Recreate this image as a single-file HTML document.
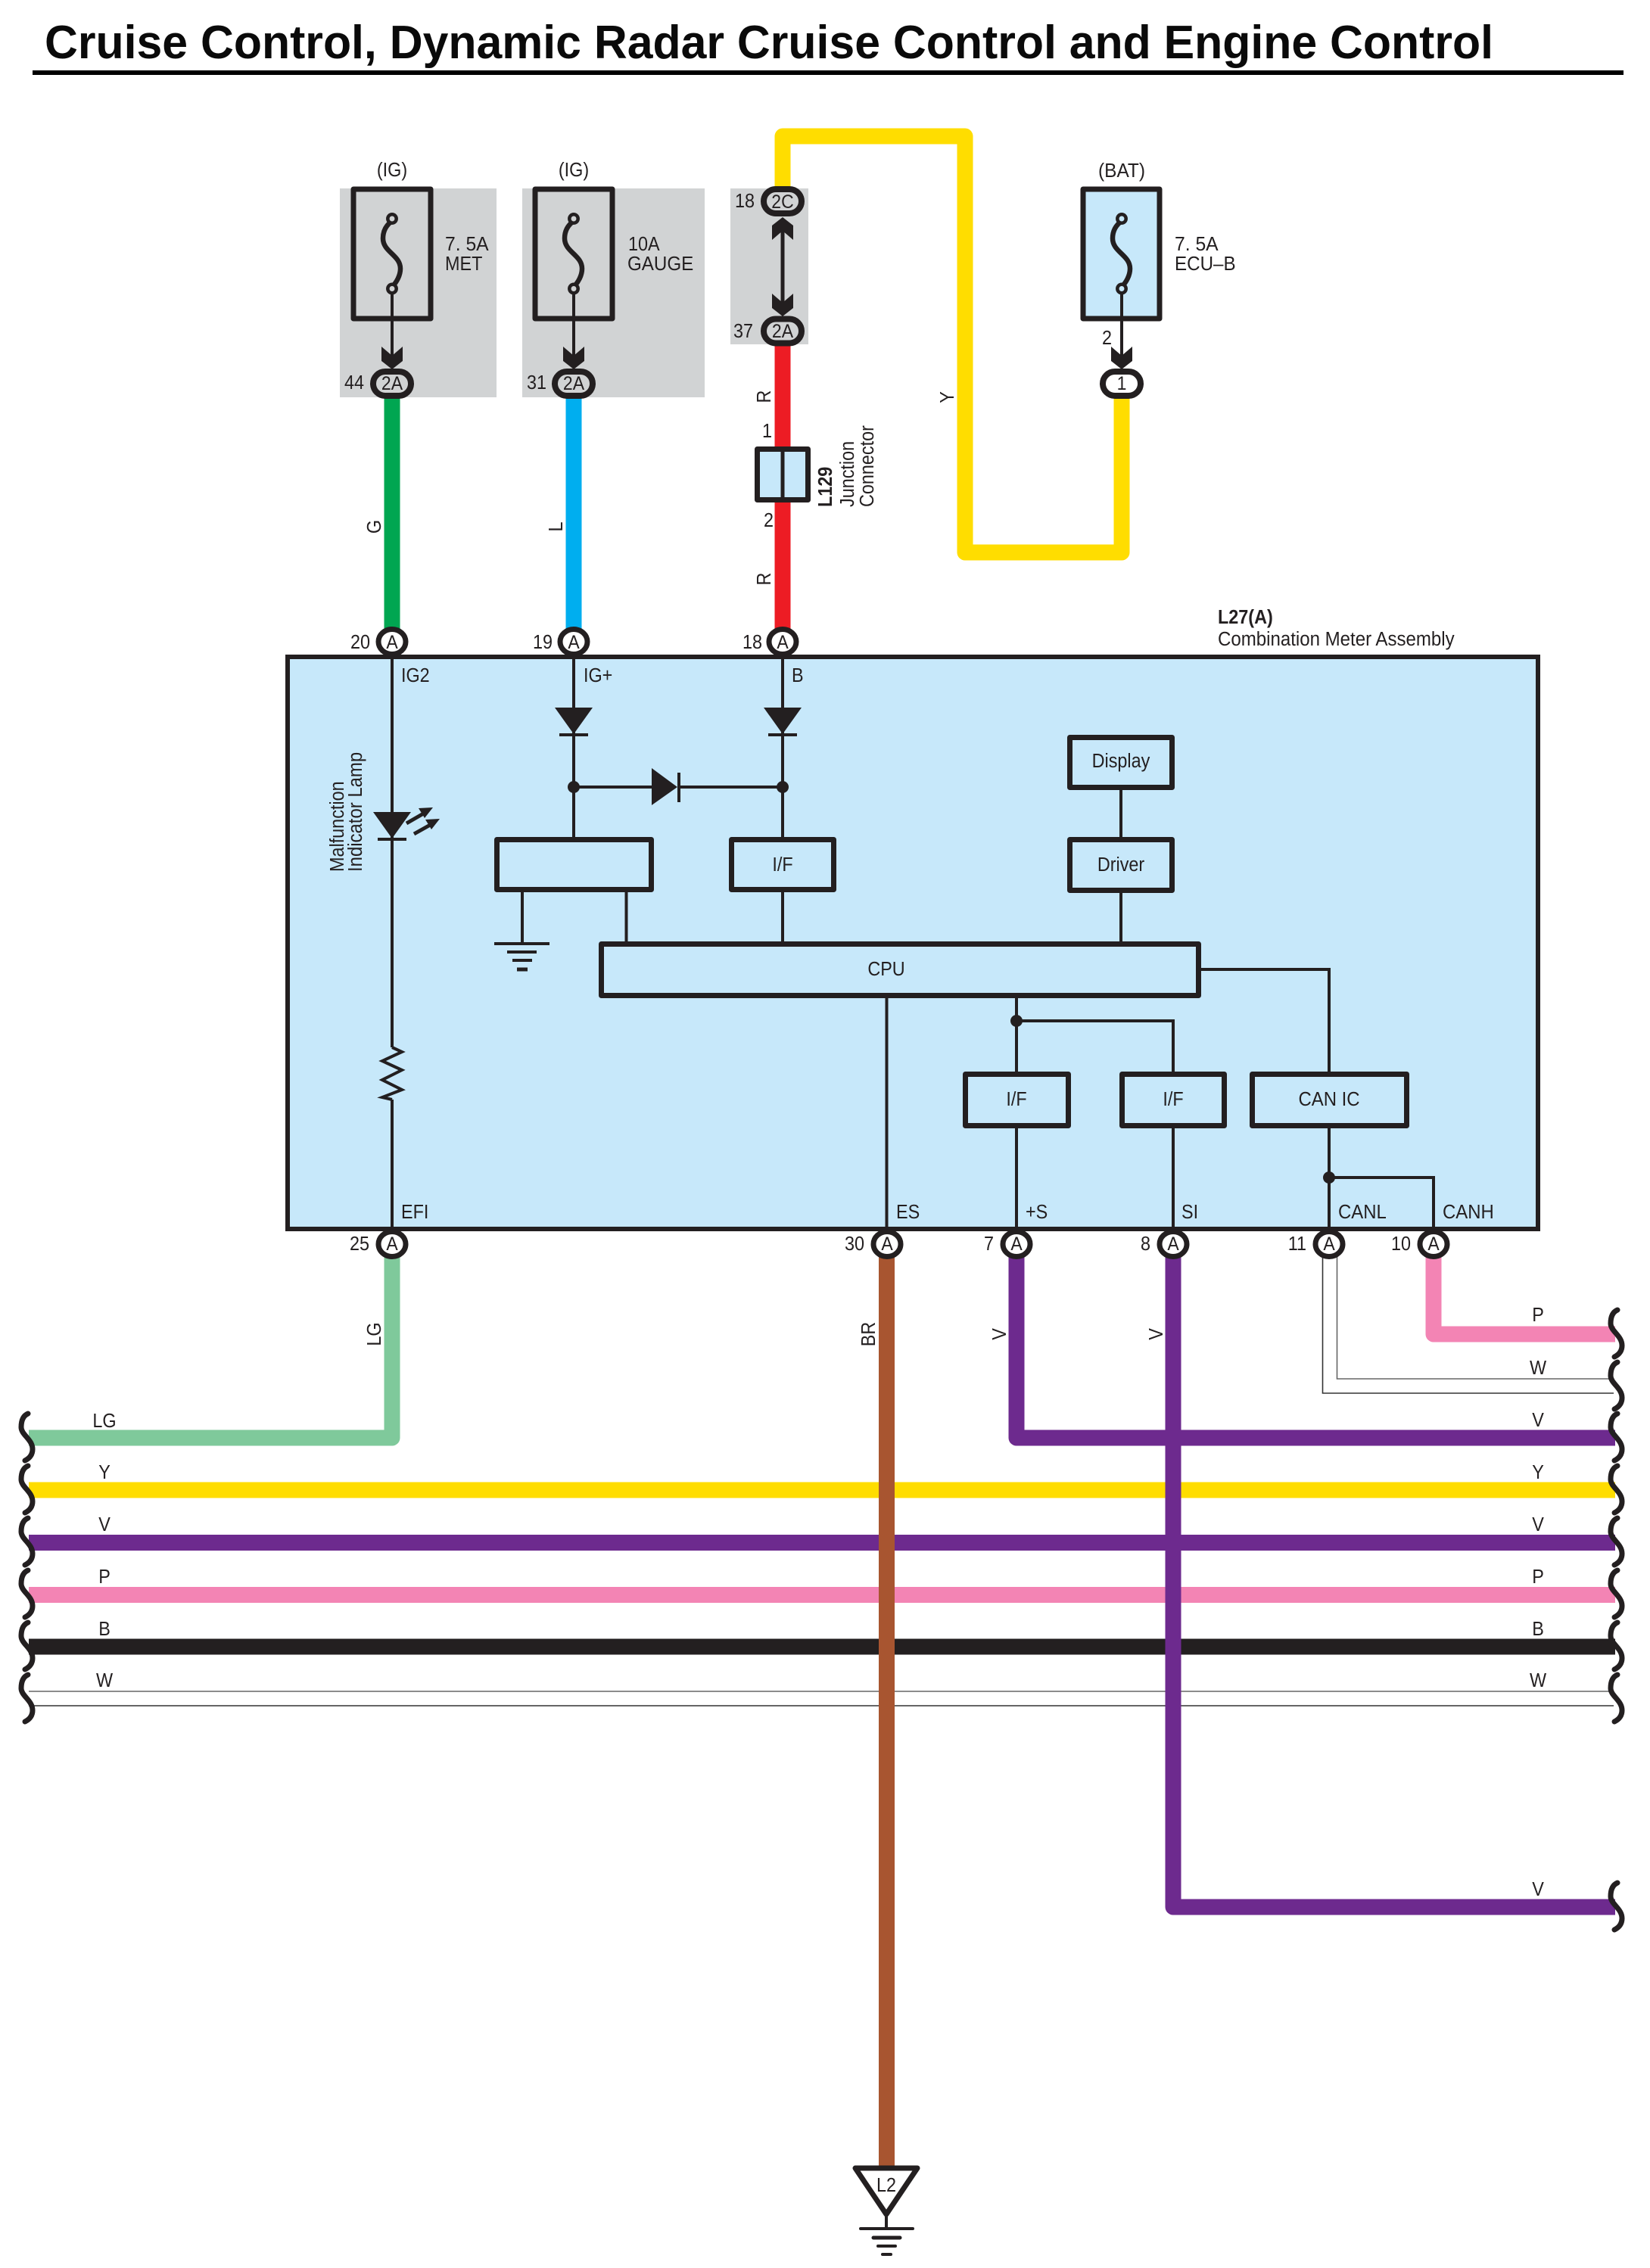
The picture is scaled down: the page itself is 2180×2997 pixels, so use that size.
<!DOCTYPE html>
<html><head><meta charset="utf-8"><style>
html,body{margin:0;padding:0;background:#fff}
svg{display:block}
text{font-family:"Liberation Sans",sans-serif;font-size:26px;fill:#231f20}
.m{text-anchor:middle}.e{text-anchor:end}.b{font-weight:bold}
.n{font-size:25px}
.w{fill:none;stroke-width:21;stroke-linejoin:round}
.l{fill:none;stroke:#231f20;stroke-width:4}
.k{fill:none;stroke:#231f20;stroke-width:7;stroke-linejoin:round}
.bx{fill:#c7e8fa;stroke:#231f20;stroke-width:7;stroke-linejoin:round}
.c{fill:#fff;stroke:#231f20;stroke-width:7}
.g{fill:#d1d3d4;stroke:#231f20;stroke-width:8}
.o{fill:#fff;stroke:#231f20;stroke-width:8}
.f{fill:#231f20;stroke:none}
.sq{fill:none;stroke:#231f20;stroke-width:7;stroke-linecap:round}
</style></head><body>
<svg xmlns="http://www.w3.org/2000/svg" width="2180" height="2997" viewBox="0 0 2180 2997">
<defs>
<path id="s" class="sq" d="M11 -32C4 -29 2 -22 2 -14C2 -4 17 2 17 15C17 22 13 27 7 30"/>
<polygon id="h" class="f" stroke-linejoin="round" points="-14,-30 0,-18 14,-30 14,-11 0,0 -14,-11"/>
<path id="fs" fill="none" stroke="#231f20" stroke-width="6.5" d="M0 3C-7 8 -12 15 -12 26C-12 44 11 48 11 66C11 75 6 84 0 90"/>
<g id="tri"><polygon class="f" points="-25,0 25,0 0,35"/><rect class="f" x="-19" y="34" width="38" height="4"/></g>
</defs>
<rect width="2180" height="2997" fill="#fff"/>

<text class="b" x="59" y="77" style="font-size:62px;fill:#0a0a0a" textLength="1914" lengthAdjust="spacingAndGlyphs">Cruise Control, Dynamic Radar Cruise Control and Engine Control</text>
<rect x="43" y="93" width="2102" height="6" fill="#000"/>

<!-- gray zones -->
<rect x="449" y="249" width="207" height="276" fill="#d1d3d4"/>
<rect x="690" y="249" width="241" height="276" fill="#d1d3d4"/>
<rect x="965" y="249" width="103" height="206" fill="#d1d3d4"/>

<!-- horizontal wires -->
<path class="w" stroke="#ffdd00" d="M38 1969H2134"/>
<path class="w" stroke="#6d2a8e" d="M38 2038.5H2134"/>
<path class="w" stroke="#f384b4" d="M38 2107.5H2134"/>
<path class="w" stroke="#231f20" d="M38 2176H2134"/>
<path fill="none" stroke="#666" stroke-width="1.6" d="M38 2235H2132"/>
<path fill="none" stroke="#333" stroke-width="1.6" d="M38 2254H2132"/>
<path fill="none" stroke="#666" stroke-width="1.6" d="M1766.5 1660V1822H2132"/>
<path fill="none" stroke="#333" stroke-width="1.6" d="M1747.5 1660V1841H2132"/>

<!-- top wires -->
<path class="w" stroke="#00a651" d="M518 507V848"/>
<path class="w" stroke="#00aeef" d="M758 507V848"/>
<path class="w" stroke="#ed1c24" d="M1034 438V848"/>
<path class="w" stroke="#ffdd00" d="M1034 267V180H1275V730H1482V507"/>

<!-- bottom wires -->
<path class="w" stroke="#7fc99b" d="M518 1644V1900H38"/>
<path class="w" stroke="#f384b4" d="M1894 1644V1763H2134"/>
<path class="w" stroke="#6d2a8e" d="M1343 1644V1900H2134"/>
<path class="w" stroke="#6d2a8e" d="M1550 1644V2520H2134"/>
<path class="w" stroke="#a85530" d="M1171.5 1644V2865"/>

<!-- squiggles -->
<use href="#s" x="2126" y="1763"/><use href="#s" x="2126" y="1832"/><use href="#s" x="2126" y="1900"/><use href="#s" x="2126" y="1969"/><use href="#s" x="2126" y="2038"/><use href="#s" x="2126" y="2107"/><use href="#s" x="2126" y="2176"/><use href="#s" x="2126" y="2245"/><use href="#s" x="2126" y="2520"/>
<use href="#s" x="26" y="1900"/><use href="#s" x="26" y="1969"/><use href="#s" x="26" y="2038"/><use href="#s" x="26" y="2107"/><use href="#s" x="26" y="2176"/><use href="#s" x="26" y="2245"/>

<!-- fuses -->
<rect x="467" y="250" width="102" height="171" class="k"/>
<rect x="707" y="250" width="102" height="171" class="k"/>
<rect x="1431" y="250" width="101" height="171" class="bx"/>
<use href="#fs" x="518" y="289"/><use href="#fs" x="758" y="289"/><use href="#fs" x="1482" y="289"/>
<circle cx="518" cy="289" r="5.7" fill="#d1d3d4" stroke="#231f20" stroke-width="4.5"/><circle cx="518" cy="381.5" r="5.7" fill="#d1d3d4" stroke="#231f20" stroke-width="4.5"/>
<circle cx="758" cy="289" r="5.7" fill="#d1d3d4" stroke="#231f20" stroke-width="4.5"/><circle cx="758" cy="381.5" r="5.7" fill="#d1d3d4" stroke="#231f20" stroke-width="4.5"/>
<circle cx="1482" cy="289" r="5.7" fill="#c7e8fa" stroke="#231f20" stroke-width="4.5"/><circle cx="1482" cy="381.5" r="5.7" fill="#c7e8fa" stroke="#231f20" stroke-width="4.5"/>
<path class="l" d="M518 387V470M758 387V470M1482 387V470"/>
<path class="l" style="stroke-width:5" d="M1034 300V405"/>
<use href="#h" x="518" y="488"/><use href="#h" x="758" y="488"/><use href="#h" x="1482" y="488"/><use href="#h" x="1034" y="418"/>
<use href="#h" transform="translate(1034 287) scale(1 -1)"/>

<!-- oval connectors -->
<rect x="493" y="491" width="50" height="32" rx="16" class="g"/>
<rect x="733" y="491" width="50" height="32" rx="16" class="g"/>
<rect x="1009" y="250" width="50" height="32" rx="16" class="g"/>
<rect x="1009" y="421.5" width="50" height="32" rx="16" class="g"/>
<rect x="1457" y="491" width="50" height="32" rx="16" class="o"/>

<!-- junction -->
<rect x="1000.5" y="593.5" width="67" height="67" class="bx"/>
<path class="k" style="stroke-width:5" d="M1034 593V661"/>

<!-- main box -->
<rect x="380" y="868" width="1652" height="756" fill="#c7e8fa" stroke="#231f20" stroke-width="6"/>

<!-- inner lines -->
<path class="l" d="M518 868V1384M518 1453V1624M758 868V1106M1034 868V1106M758 1040H861M895 1040H1034"/>
<path class="l" d="M690 1179V1247M827.5 1179V1245M1034 1179V1245M1481 1040V1106M1481 1180V1244M1171.5 1319V1624"/>
<path class="l" d="M1587 1281H1756V1417M1343 1319V1416M1343 1349H1550V1416M1343 1491V1624M1550 1491V1624M1756 1491V1624M1756 1556H1894V1624"/>
<circle cx="758" cy="1040" r="8" class="f"/><circle cx="1034" cy="1040" r="8" class="f"/><circle cx="1343" cy="1349" r="8" class="f"/><circle cx="1756" cy="1556" r="8" class="f"/>

<!-- diodes -->
<use href="#tri" x="758" y="935"/><use href="#tri" x="1034" y="935"/>
<polygon class="f" points="861,1015 895,1040 861,1064"/><rect class="f" x="895" y="1021" width="4" height="39"/>
<use href="#tri" x="518" y="1073"/>
<path class="l" style="stroke-width:5" d="M537 1088L563 1073M547 1102L572 1088"/>
<polygon class="f" points="572,1067 553,1068 561,1081"/><polygon class="f" points="581,1082 562,1083 570,1096"/>
<polyline class="l" points="518,1384 531,1390 505,1402 531,1414 505,1427 531,1440 505,1450 518,1453"/>

<!-- ground inside -->
<path fill="none" stroke="#231f20" d="M653 1247H726" stroke-width="4"/>
<path fill="none" stroke="#231f20" d="M670 1258H709" stroke-width="4"/>
<path fill="none" stroke="#231f20" d="M677 1269H703" stroke-width="4"/>
<path fill="none" stroke="#231f20" d="M683 1281H697" stroke-width="5"/>

<!-- blocks -->
<rect x="656.5" y="1109.5" width="204" height="66" class="bx"/>
<rect x="966.5" y="1109.5" width="135" height="66" class="bx"/>
<rect x="1413.5" y="974.5" width="135" height="66" class="bx"/>
<rect x="1413.5" y="1109.5" width="135" height="67" class="bx"/>
<rect x="794.5" y="1247.5" width="789" height="68" class="bx"/>
<rect x="1275.5" y="1419.5" width="136" height="68" class="bx"/>
<rect x="1482.5" y="1419.5" width="135" height="68" class="bx"/>
<rect x="1654.5" y="1419.5" width="204" height="68" class="bx"/>

<!-- round connectors -->
<ellipse cx="518" cy="848" rx="18" ry="16.5" class="c"/><ellipse cx="758" cy="848" rx="18" ry="16.5" class="c"/><ellipse cx="1034" cy="848" rx="18" ry="16.5" class="c"/>
<ellipse cx="518" cy="1644" rx="18" ry="16.5" class="c"/><ellipse cx="1172" cy="1644" rx="18" ry="16.5" class="c"/><ellipse cx="1343" cy="1644" rx="18" ry="16.5" class="c"/><ellipse cx="1550" cy="1644" rx="18" ry="16.5" class="c"/><ellipse cx="1756" cy="1644" rx="18" ry="16.5" class="c"/><ellipse cx="1894" cy="1644" rx="18" ry="16.5" class="c"/>

<!-- ground L2 -->
<polygon points="1130,2865 1212,2865 1171,2926" fill="#fff" stroke="#231f20" stroke-width="7" stroke-linejoin="round"/>
<path class="l" d="M1171 2925V2945"/>
<path fill="none" stroke="#231f20" stroke-width="4" stroke-linecap="round" d="M1137 2945H1206"/>
<path fill="none" stroke="#231f20" stroke-width="5" stroke-linecap="round" d="M1154 2957H1189"/>
<path fill="none" stroke="#231f20" stroke-width="4" stroke-linecap="round" d="M1160 2968H1183"/>
<path fill="none" stroke="#231f20" stroke-width="4" stroke-linecap="round" d="M1166 2979H1177"/>

<!-- labels -->
<text class="m" transform="translate(518 233) scale(.9 1)">(IG)</text>
<text class="m" transform="translate(758 233) scale(.9 1)">(IG)</text>
<text class="m" transform="translate(1482 234) scale(.94 1)">(BAT)</text>
<text transform="translate(588 331) scale(.95 1)">7. 5A</text>
<text transform="translate(588 357) scale(.9 1)">MET</text>
<text transform="translate(830 331) scale(.9 1)">10A</text>
<text transform="translate(829 357) scale(.93 1)">GAUGE</text>
<text transform="translate(1552 331) scale(.95 1)">7. 5A</text>
<text transform="translate(1552 357) scale(.93 1)">ECU–B</text>
<text class="e" transform="translate(481 514) scale(.9 1)">44</text>
<text class="m n" transform="translate(518 515) scale(.92 1)">2A</text>
<text class="e" transform="translate(722 514) scale(.9 1)">31</text>
<text class="m n" transform="translate(758 515) scale(.92 1)">2A</text>
<text class="e" transform="translate(997 274) scale(.9 1)">18</text>
<text class="m n" transform="translate(1034 275) scale(.92 1)">2C</text>
<text class="e" transform="translate(995 446) scale(.9 1)">37</text>
<text class="m n" transform="translate(1034 446) scale(.92 1)">2A</text>
<text class="m n" transform="translate(1482 515) scale(.92 1)">1</text>
<text class="e" transform="translate(1469 455) scale(.9 1)">2</text>
<text class="e" transform="translate(1020 578) scale(.9 1)">1</text>
<text class="e" transform="translate(1022 696) scale(.9 1)">2</text>

<text class="m" transform="translate(1018 524) rotate(-90) scale(.9 1)">R</text>
<text class="m" transform="translate(1018 765) rotate(-90) scale(.9 1)">R</text>
<text class="m" transform="translate(503 696) rotate(-90) scale(.9 1)">G</text>
<text class="m" transform="translate(743 696) rotate(-90) scale(.9 1)">L</text>
<text class="m" transform="translate(1260 525) rotate(-90) scale(.9 1)">Y</text>
<text class="b" transform="translate(1099 670) rotate(-90) scale(.9 1)">L129</text>
<text transform="translate(1128 670) rotate(-90) scale(.9 1)">Junction</text>
<text transform="translate(1154 670) rotate(-90) scale(.9 1)">Connector</text>

<text class="b" transform="translate(1609 824) scale(.9 1)">L27(A)</text>
<text transform="translate(1609 853) scale(.925 1)">Combination Meter Assembly</text>

<text class="e" transform="translate(489 857) scale(.9 1)">20</text><text class="m n" transform="translate(518 857) scale(.92 1)">A</text>
<text class="e" transform="translate(730 857) scale(.9 1)">19</text><text class="m n" transform="translate(758 857) scale(.92 1)">A</text>
<text class="e" transform="translate(1007 857) scale(.9 1)">18</text><text class="m n" transform="translate(1034 857) scale(.92 1)">A</text>

<text transform="translate(530 901) scale(.9 1)">IG2</text>
<text transform="translate(771 901) scale(.9 1)">IG+</text>
<text transform="translate(1046 901) scale(.9 1)">B</text>
<text transform="translate(454 1152) rotate(-90) scale(.9 1)">Malfunction</text>
<text transform="translate(478 1152) rotate(-90) scale(.92 1)">Indicator Lamp</text>
<text class="m" transform="translate(1034 1151) scale(.9 1)">I/F</text>
<text class="m" transform="translate(1481 1014) scale(.9 1)">Display</text>
<text class="m" transform="translate(1481 1151) scale(.9 1)">Driver</text>
<text class="m" transform="translate(1171 1289) scale(.9 1)">CPU</text>
<text class="m" transform="translate(1343 1461) scale(.9 1)">I/F</text>
<text class="m" transform="translate(1550 1461) scale(.9 1)">I/F</text>
<text class="m" transform="translate(1756 1461) scale(.92 1)">CAN IC</text>

<text transform="translate(530 1610) scale(.9 1)">EFI</text>
<text transform="translate(1184 1610) scale(.9 1)">ES</text>
<text transform="translate(1355 1610) scale(.9 1)">+S</text>
<text transform="translate(1561 1610) scale(.9 1)">SI</text>
<text transform="translate(1768 1610) scale(.92 1)">CANL</text>
<text transform="translate(1906 1610) scale(.92 1)">CANH</text>

<text class="e" transform="translate(488 1652) scale(.9 1)">25</text><text class="m n" transform="translate(518 1652) scale(.92 1)">A</text>
<text class="e" transform="translate(1142 1652) scale(.9 1)">30</text><text class="m n" transform="translate(1172 1652) scale(.92 1)">A</text>
<text class="e" transform="translate(1313 1652) scale(.9 1)">7</text><text class="m n" transform="translate(1343 1652) scale(.92 1)">A</text>
<text class="e" transform="translate(1520 1652) scale(.9 1)">8</text><text class="m n" transform="translate(1550 1652) scale(.92 1)">A</text>
<text class="e" transform="translate(1726 1652) scale(.9 1)">11</text><text class="m n" transform="translate(1756 1652) scale(.92 1)">A</text>
<text class="e" transform="translate(1864 1652) scale(.9 1)">10</text><text class="m n" transform="translate(1894 1652) scale(.92 1)">A</text>

<text class="m" transform="translate(503 1763) rotate(-90) scale(.9 1)">LG</text>
<text class="m" transform="translate(1156 1763) rotate(-90) scale(.9 1)">BR</text>
<text class="m" transform="translate(1329 1763) rotate(-90) scale(.9 1)">V</text>
<text class="m" transform="translate(1536 1763) rotate(-90) scale(.9 1)">V</text>

<text class="m" transform="translate(138 1886) scale(.9 1)">LG</text>
<text class="m" transform="translate(138 1954) scale(.9 1)">Y</text>
<text class="m" transform="translate(138 2023) scale(.9 1)">V</text>
<text class="m" transform="translate(138 2092) scale(.9 1)">P</text>
<text class="m" transform="translate(138 2161) scale(.9 1)">B</text>
<text class="m" transform="translate(138 2229) scale(.9 1)">W</text>

<text class="m" transform="translate(2032 1746) scale(.9 1)">P</text>
<text class="m" transform="translate(2032 1816) scale(.9 1)">W</text>
<text class="m" transform="translate(2032 1885) scale(.9 1)">V</text>
<text class="m" transform="translate(2032 1954) scale(.9 1)">Y</text>
<text class="m" transform="translate(2032 2023) scale(.9 1)">V</text>
<text class="m" transform="translate(2032 2092) scale(.9 1)">P</text>
<text class="m" transform="translate(2032 2161) scale(.9 1)">B</text>
<text class="m" transform="translate(2032 2229) scale(.9 1)">W</text>
<text class="m" transform="translate(2032 2505) scale(.9 1)">V</text>
<text class="m" transform="translate(1171 2896) scale(.9 1)">L2</text>
</svg>
</body></html>
